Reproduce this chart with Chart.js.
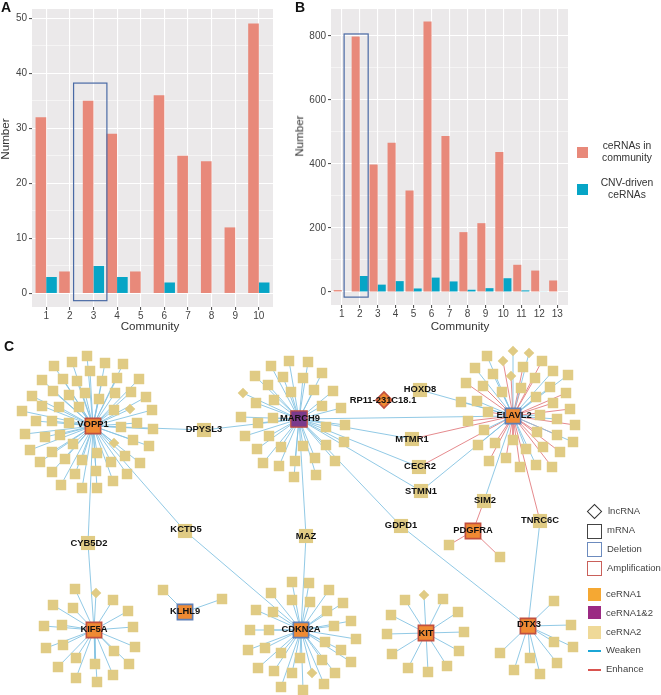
<!DOCTYPE html>
<html>
<head>
<meta charset="utf-8">
<script src="https://cdn.jsdelivr.net/npm/chart.js@4"></script>
<style>
  html, body { margin: 0; padding: 0; background: #fff; }
  body { position: relative; width: 661px; height: 695px; overflow: hidden; font-family: "Liberation Sans", Arial, sans-serif; }
  canvas { position: absolute; }
  .txt { position: absolute; white-space: nowrap; color: #333; line-height: 1; }
  .letter { font-size: 14px; font-weight: bold; color: #111; }
  .title { font-size: 11.6px; transform: translate(-50%, -50%); }
  .ylab { transform: translate(-50%, -50%) rotate(-90deg); }
  .leg { font-size: 10.3px; text-align: center; line-height: 12px; transform: translate(-50%, -50%); }
  .net { font-size: 9.5px; color: #444; transform: translateY(-50%); }
  .key { position: absolute; box-sizing: border-box; }
</style>
</head>
<body>
<canvas id="chartA" width="290" height="333" style="left:0;top:0"></canvas>
<canvas id="chartB" width="290" height="333" style="left:290px;top:0"></canvas>
<canvas id="chartC" width="661" height="365" style="left:0;top:330px"></canvas>

<div class="txt letter" style="left:1px;top:0">A</div>
<div class="txt letter" style="left:295px;top:0">B</div>
<div class="txt letter" style="left:4px;top:339px">C</div>

<div class="txt title ylab" style="left:5px;top:139px">Number</div>
<div class="txt title" style="left:150px;top:326px">Community</div>
<div class="txt title ylab" style="left:299px;top:136px">Number</div>
<div class="txt title" style="left:460px;top:326px">Community</div>

<div class="key" style="left:577px;top:147px;width:11px;height:11px;background:#E8897A"></div>
<div class="txt leg" style="left:627px;top:152px">ceRNAs in<br>community</div>
<div class="key" style="left:577px;top:184px;width:11px;height:11px;background:#06A5C6"></div>
<div class="txt leg" style="left:627px;top:189px">CNV-driven<br>ceRNAs</div>

<div class="key" style="left:589px;top:506px;width:11px;height:11px;border:1.2px solid #333;transform:rotate(45deg)"></div>
<div class="txt net" style="left:608px;top:511px">lncRNA</div>
<div class="key" style="left:587px;top:524px;width:15px;height:15px;border:1.2px solid #444"></div>
<div class="txt net" style="left:607px;top:530px">mRNA</div>
<div class="key" style="left:587px;top:542px;width:15px;height:15px;border:1.2px solid #6C8BBE"></div>
<div class="txt net" style="left:607px;top:549px">Deletion</div>
<div class="key" style="left:587px;top:561px;width:15px;height:15px;border:1.2px solid #C9605A"></div>
<div class="txt net" style="left:607px;top:568px">Amplification</div>
<div class="key" style="left:588px;top:588px;width:13px;height:13px;background:#F5A833"></div>
<div class="txt net" style="left:606px;top:594px">ceRNA1</div>
<div class="key" style="left:588px;top:606px;width:13px;height:13px;background:#9B2A83"></div>
<div class="txt net" style="left:606px;top:613px">ceRNA1&amp;2</div>
<div class="key" style="left:588px;top:626px;width:13px;height:13px;background:#EFD998"></div>
<div class="txt net" style="left:606px;top:632px">ceRNA2</div>
<div class="key" style="left:588px;top:650px;width:13px;height:2px;background:#1BA6D6"></div>
<div class="txt net" style="left:606px;top:650px">Weaken</div>
<div class="key" style="left:588px;top:669px;width:13px;height:2px;background:#D9534F"></div>
<div class="txt net" style="left:606px;top:669px">Enhance</div>

<script>
// panel A
const communitiesA = [1, 2, 3, 4, 5, 6, 7, 8, 9, 10];
const inCommunityA = [32, 4, 35, 29, 4, 36, 25, 24, 12, 49];
const cnvDrivenA = [3, 0, 5, 3, 0, 2, 0, 0, 0, 2];
const yMajorA = [0, 10, 20, 30, 40, 50];
const yMinorA = [5, 15, 25, 35, 45];

// panel B
const communitiesB = [1, 2, 3, 4, 5, 6, 7, 8, 9, 10, 11, 12, 13];
const inCommunityB = [6, 798, 398, 466, 317, 845, 487, 187, 215, 437, 85, 67, 36];
const cnvDrivenB = [0, 50, 23, 34, 11, 45, 33, 7, 12, 43, 5, 2, 0];
const yMajorB = [0, 200, 400, 600, 800];
const yMinorB = [100, 300, 500, 700];

// panel C, node positions are layout coordinates of the network
const vopp1 = [93, 426];
const vopp1Leaves = [[87,356],[72,362],[54,366],[105,363],[123,364],[42,380],[63,379],[77,381],[90,371],[102,381],[117,378],[139,379],[32,396],[53,391],[69,395],[85,393],[99,399],[115,393],[131,392],[146,397],[22,411],[42,406],[59,407],[79,407],[114,410],[152,410],[36,421],[52,421],[69,423],[121,427],[137,423],[153,429],[25,434],[45,437],[60,435],[73,444],[133,440],[149,446],[30,450],[52,452],[65,459],[82,460],[97,453],[111,462],[125,456],[140,463],[40,462],[52,472],[75,474],[96,471],[127,474],[113,481],[61,485],[82,488],[97,488]];
const vopp1Lnc = [[130,409],[114,443]];

const march9 = [299, 419];
const march9Leaves = [[289,361],[308,362],[271,366],[322,373],[255,376],[283,377],[303,378],[268,385],[314,390],[333,391],[291,392],[256,403],[274,400],[322,406],[341,408],[241,417],[273,418],[258,423],[326,427],[345,425],[245,436],[269,436],[257,449],[281,447],[303,446],[326,445],[344,442],[263,463],[279,466],[295,461],[315,458],[335,461],[294,477],[316,475]];
const march9Lnc = [[243,393]];

const elavl2 = [513, 416];
const elavl2WeakenLeaves = [[487,356],[475,368],[493,374],[553,371],[568,375],[502,392],[550,387],[536,397],[461,402],[477,401],[540,415],[557,419],[484,430],[573,442],[478,445],[526,449],[536,465]];
const elavl2EnhanceLeaves = [[523,367],[542,361],[535,378],[466,383],[483,386],[521,388],[566,393],[553,403],[488,412],[570,409],[575,425],[468,421],[537,432],[557,435],[495,443],[513,440],[543,447],[560,452],[489,461],[506,458],[520,467],[552,467]];
const elavl2WeakenLnc = [[513,351],[529,353]];
const elavl2EnhanceLnc = [[503,361],[511,376]];

const kif5a = [94, 630];
const kif5aLeaves = [[75,589],[53,605],[73,608],[113,600],[128,611],[44,626],[62,625],[133,627],[46,648],[63,645],[135,647],[114,651],[129,664],[76,658],[58,667],[95,664],[76,678],[97,682],[113,675]];
const kif5aLnc = [[96,593]];

const klhl9 = [185, 612];
const klhl9Leaves = [[163,590],[222,599]];

const cdkn2a = [301, 630];
const cdkn2aLeaves = [[292,582],[309,583],[271,593],[329,590],[292,600],[310,602],[256,610],[273,612],[343,603],[327,611],[250,630],[269,630],[351,621],[334,626],[356,639],[248,650],[265,648],[325,642],[341,650],[281,653],[300,658],[322,660],[351,662],[258,668],[274,671],[292,673],[335,673],[281,687],[303,690],[324,684]];
const cdkn2aLnc = [[312,673]];

const kit = [426, 633];
const kitLeaves = [[405,600],[391,615],[387,634],[392,654],[408,668],[428,672],[443,599],[458,612],[464,632],[459,651],[447,666]];
const kitLnc = [[424,595]];

const dtx3 = [528, 626];
const dtx3Leaves = [[554,601],[571,625],[554,642],[573,647],[557,663],[540,674],[530,658],[514,670],[500,653]];

const pdgfra = [473, 531];
const pdgfraLeaves = [[449,545],[500,557]];

const dpysl3 = [204, 430];
const cyb5d2 = [88, 543];
const kctd5 = [185, 531];
const maz = [306, 536];
const gdpd1 = [401, 526];
const hoxd8 = [420, 390];
const mtmr1 = [412, 439];
const cecr2 = [419, 467];
const stmn1 = [421, 491];
const sim2 = [484, 501];
const tnrc6c = [540, 521];
const rp11 = [384, 400];

const weakenLinks = [
  [vopp1, dpysl3], [dpysl3, march9], [vopp1, cyb5d2], [cyb5d2, kif5a], [vopp1, kctd5], [kctd5, cdkn2a],
  [march9, maz], [maz, cdkn2a], [march9, elavl2], [march9, gdpd1], [gdpd1, dtx3], [march9, mtmr1],
  [march9, cecr2], [march9, stmn1], [hoxd8, elavl2], [stmn1, elavl2], [elavl2, sim2], [tnrc6c, dtx3]
];
const enhanceLinks = [[mtmr1, elavl2], [cecr2, elavl2], [elavl2, tnrc6c], [sim2, pdgfra]];

const geneLabels = [
  ['VOPP1', 93, 424], ['MARCH9', 300, 418], ['ELAVL2', 514, 415], ['KIF5A', 94, 629], ['KLHL9', 185, 611],
  ['CDKN2A', 301, 629], ['KIT', 426, 633], ['DTX3', 529, 624], ['PDGFRA', 473, 530], ['TNRC6C', 540, 520],
  ['SIM2', 485, 500], ['GDPD1', 401, 525], ['MAZ', 306, 536], ['KCTD5', 186, 529], ['CYB5D2', 89, 543],
  ['DPYSL3', 204, 429], ['HOXD8', 420, 389], ['RP11-231C18.1', 383, 400], ['MTMR1', 412, 439],
  ['CECR2', 420, 466], ['STMN1', 421, 491]
];

const RED_BAR = '#E8897A', BLUE_BAR = '#06A5C6', PANEL = '#EBE9EA';
const LEAF = '#E0CB84', WEAKEN = '#84C3E2', ENHANCE = '#E27D80';
const HUB_FILL = '#EF8A33', HUB_PURPLE = '#7A3A8C', AMP = '#C2503F', DEL = '#5F7FB5';

function barChart(id, cats, red, blue, major, minor, o) {
  new Chart(document.getElementById(id), {
    type: 'bar',
    data: {
      datasets: [
        { data: cats.map((c, i) => ({ x: c, y: red[i] })), backgroundColor: RED_BAR },
        { data: cats.map((c, i) => ({ x: c, y: blue[i] })), backgroundColor: BLUE_BAR }
      ]
    },
    options: {
      responsive: false,
      animation: false,
      events: [],
      layout: { autoPadding: false, padding: { left: 0, right: o.right, top: 9, bottom: 0 } },
      datasets: { bar: { barPercentage: 1, categoryPercentage: 0.9 } },
      plugins: { legend: { display: false }, tooltip: { enabled: false } },
      scales: {
        x: {
          type: 'linear', offset: false, min: 0.4, max: cats.length + 0.6,
          afterBuildTicks: axis => { axis.ticks = cats.map(v => ({ value: v })); },
          afterFit: axis => { axis.height = o.xh; },
          border: { display: false },
          grid: { offset: false, color: '#fff', lineWidth: 1.1, tickColor: '#555', tickLength: 3 },
          ticks: { autoSkip: false, maxRotation: 0, padding: 0, color: '#444', font: { size: 10, family: 'Liberation Sans' }, callback: v => v }
        },
        y: {
          min: o.ymin, max: o.ymax,
          afterBuildTicks: axis => { axis.ticks = major.concat(minor).map(v => ({ value: v })); },
          afterFit: axis => { axis.width = o.yw; },
          border: { display: false },
          grid: {
            color: '#fff', tickLength: 3,
            lineWidth: c => major.includes(c.tick.value) ? 1.1 : 0.5,
            tickColor: c => major.includes(c.tick.value) ? '#555' : 'rgba(0,0,0,0)'
          },
          ticks: { autoSkip: false, padding: 2, color: '#444', font: { size: 10, family: 'Liberation Sans' }, callback: v => major.includes(v) ? v : '' }
        }
      }
    },
    plugins: [{
      id: 'panelBox',
      beforeDraw(chart) {
        const a = chart.chartArea, ctx = chart.ctx;
        ctx.fillStyle = PANEL;
        ctx.fillRect(a.left, a.top, a.right - a.left, a.bottom - a.top);
      },
      afterDatasetsDraw(chart) {
        const x = chart.scales.x, y = chart.scales.y, ctx = chart.ctx, b = o.box;
        ctx.save();
        ctx.strokeStyle = '#4A6AA5';
        ctx.lineWidth = 1.2;
        ctx.strokeRect(x.getPixelForValue(b[0]), y.getPixelForValue(b[3]),
          x.getPixelForValue(b[1]) - x.getPixelForValue(b[0]), y.getPixelForValue(b[2]) - y.getPixelForValue(b[3]));
        ctx.restore();
      }
    }]
  });
}

barChart('chartA', communitiesA, inCommunityA, cnvDrivenA, yMajorA, yMinorA,
  { right: 17, xh: 26, yw: 32, ymin: -2.45, ymax: 51.65, box: [2.16, 3.57, -1.3, 38.2] });
barChart('chartB', communitiesB, inCommunityB, cnvDrivenB, yMajorB, yMinorB,
  { right: 12, xh: 28, yw: 41, ymin: -40.6, ymax: 884, box: [1.13, 2.47, -16, 806] });

// network
const pts = list => list.map(p => ({ x: p[0], y: p[1] }));
const gap = { x: NaN, y: NaN };
function spokes(hub, leaves) {
  return leaves.flatMap(l => [{ x: hub[0], y: hub[1] }, { x: l[0], y: l[1] }, gap]);
}
function links(list) {
  return list.flatMap(l => [{ x: l[0][0], y: l[0][1] }, { x: l[1][0], y: l[1][1] }, gap]);
}
const edge = (data, color) => ({ data, showLine: true, borderColor: color, borderWidth: 0.9, pointRadius: 0, spanGaps: false, order: 5 });
const nodes = (data, style, radius, fill, border, width, order) => ({
  data: pts(data), pointStyle: style, pointRadius: radius, pointBackgroundColor: fill,
  pointBorderColor: border || fill, pointBorderWidth: width || 0, order: order
});

const weakenEdges = [].concat(
  spokes(vopp1, vopp1Leaves.concat(vopp1Lnc)),
  spokes(march9, march9Leaves.concat(march9Lnc)),
  spokes(elavl2, elavl2WeakenLeaves.concat(elavl2WeakenLnc)),
  spokes(kif5a, kif5aLeaves.concat(kif5aLnc)),
  spokes(klhl9, klhl9Leaves),
  spokes(cdkn2a, cdkn2aLeaves.concat(cdkn2aLnc)),
  spokes(kit, kitLeaves.concat(kitLnc)),
  spokes(dtx3, dtx3Leaves),
  links(weakenLinks)
);
const enhanceEdges = [].concat(
  spokes(elavl2, elavl2EnhanceLeaves.concat(elavl2EnhanceLnc)),
  spokes(pdgfra, pdgfraLeaves),
  links(enhanceLinks)
);
const allLeaves = [].concat(vopp1Leaves, march9Leaves, elavl2WeakenLeaves, elavl2EnhanceLeaves, kif5aLeaves, klhl9Leaves, cdkn2aLeaves, kitLeaves, dtx3Leaves, pdgfraLeaves);
const allLnc = [].concat(vopp1Lnc, march9Lnc, elavl2WeakenLnc, elavl2EnhanceLnc, kif5aLnc, cdkn2aLnc, kitLnc);
const midGenes = [dpysl3, cyb5d2, kctd5, maz, gdpd1, hoxd8, mtmr1, cecr2, stmn1, sim2, tnrc6c];

new Chart(document.getElementById('chartC'), {
  type: 'scatter',
  data: {
    datasets: [
      edge(weakenEdges, WEAKEN),
      edge(enhanceEdges, ENHANCE),
      nodes(allLeaves, 'rect', 7.4, LEAF, null, 0, 4),
      nodes(allLnc, 'rectRot', 5.3, LEAF, null, 0, 4),
      nodes(midGenes, 'rect', 10, LEAF, null, 0, 3),
      nodes([vopp1, kif5a, kit, dtx3, pdgfra], 'rect', 10.8, HUB_FILL, AMP, 1.6, 2),
      nodes([elavl2, klhl9, cdkn2a], 'rect', 10.8, HUB_FILL, DEL, 1.6, 2),
      nodes([march9], 'rect', 11.6, HUB_PURPLE, AMP, 1.2, 2),
      nodes([rp11], 'rectRot', 8, HUB_FILL, AMP, 1.6, 2)
    ]
  },
  options: {
    responsive: false,
    animation: false,
    events: [],
    layout: { autoPadding: false, padding: 0 },
    plugins: { legend: { display: false }, tooltip: { enabled: false } },
    scales: {
      x: { type: 'linear', min: 0, max: 661, display: false },
      y: { type: 'linear', min: 330, max: 695, reverse: true, display: false }
    }
  },
  plugins: [{
    id: 'geneNames',
    afterDatasetsDraw(chart) {
      const ctx = chart.ctx, x = chart.scales.x, y = chart.scales.y;
      ctx.save();
      ctx.font = 'bold 9.4px "Liberation Sans"';
      ctx.fillStyle = '#111';
      ctx.textAlign = 'center';
      ctx.textBaseline = 'middle';
      geneLabels.forEach(g => ctx.fillText(g[0], x.getPixelForValue(g[1]), y.getPixelForValue(g[2])));
      ctx.restore();
    }
  }]
});
</script>
</body>
</html>
